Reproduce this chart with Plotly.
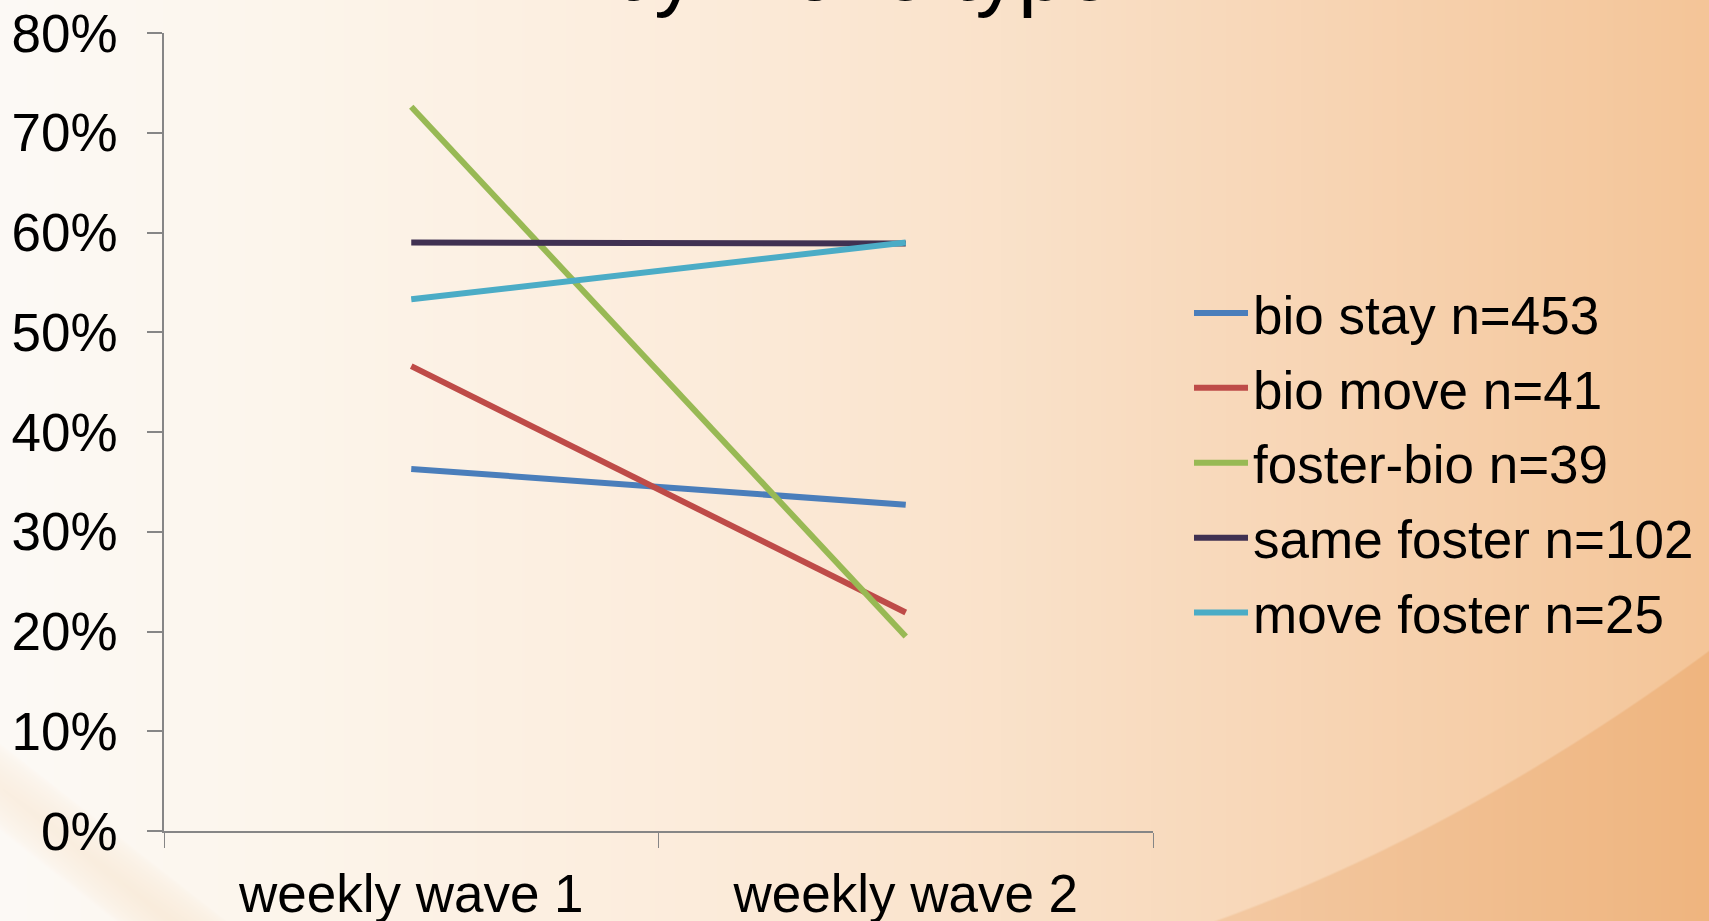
import base64
import struct
import zlib

import numpy as np
import plotly.graph_objects as go

# ---------------- data ----------------
waves = ["weekly wave 1", "weekly wave 2"]
series_names = ["bio stay n=453", "bio move n=41", "foster-bio n=39",
                "same foster n=102", "move foster n=25"]
bio_stay = [0.363, 0.327]
bio_move = [0.466, 0.219]
foster_bio = [0.726, 0.195]
same_foster = [0.590, 0.589]
move_foster = [0.533, 0.590]
series_values = [bio_stay, bio_move, foster_bio, same_foster, move_foster]
series_colors = ["#4A7EBB", "#BE4B48", "#98B954", "#403152", "#4BACC6"]
y_ticks = [0, 0.1, 0.2, 0.3, 0.4, 0.5, 0.6, 0.7, 0.8]

# ---------------- geometry ----------------
W, H = 1709, 921
L, R, T, B = 164.3, 1709 - 1153.0, 33.3, 921 - 830.7
PW, PH = W - L - R, H - T - B
FONT = "Liberation Sans, Arial, sans-serif"


# ---------------- background image (gradient) ----------------
def make_background(w, h):
    xs = np.arange(w, dtype=float)
    ys = np.arange(h, dtype=float)
    stops_x = [0, 300, 700, 1000, 1300, 1709]
    stops_c = np.array([(253, 250, 246), (252, 245, 235), (252, 236, 219),
                        (250, 226, 202), (248, 214, 182), (244, 197, 152)], float)
    base = np.stack([np.interp(xs, stops_x, stops_c[:, k]) for k in range(3)], axis=1)
    img = np.broadcast_to(base[None, :, :], (h, w, 3)).copy()
    X, Y = np.meshgrid(xs, ys)
    # darker swoosh bottom-right
    dx = X - 1300
    yc = -3.8e-4 * dx ** 2 - 0.424 * dx + 887
    yc = np.where(X < 1150, 5000, yc)
    m = np.clip((Y - yc) / 2.0 + 0.5, 0, 1)
    img -= m[..., None] * np.array([5, 16, 25], float)[None, None, :]
    # subtle diagonal band bottom-left
    d = X * 0.617 - (Y - 786) * 0.787
    band = np.clip(1 - np.abs(d) / 34, 0, 1) ** 0.6
    img -= band[..., None] * np.array([3, 11, 20], float)[None, None, :]
    return np.clip(img, 0, 255).astype(np.uint8)


def png_uri(arr):
    h, w, _ = arr.shape
    raw = b"".join(b"\x00" + arr[r].tobytes() for r in range(h))

    def chunk(tag, data):
        c = struct.pack(">I", len(data)) + tag + data
        return c + struct.pack(">I", zlib.crc32(tag + data) & 0xFFFFFFFF)

    png = (b"\x89PNG\r\n\x1a\n"
           + chunk(b"IHDR", struct.pack(">IIBBBBB", w, h, 8, 2, 0, 0, 0))
           + chunk(b"IDAT", zlib.compress(raw, 9))
           + chunk(b"IEND", b""))
    return "data:image/png;base64," + base64.b64encode(png).decode()


bg = png_uri(make_background(W, H))

# ---------------- figure ----------------
fig = go.Figure()
for i, (name, vals, col) in enumerate(zip(series_names, series_values, series_colors)):
    fig.add_trace(go.Scatter(
        x=waves, y=vals, name=name, mode="lines",
        line=dict(color=col, width=6),
        legendgroup=f"g{i}",
        hoverinfo="skip",
    ))

fig.update_layout(
    width=W, height=H,
    margin=dict(l=L, r=R, t=T, b=B, pad=0, autoexpand=False),
    paper_bgcolor="#FCEFE2",
    plot_bgcolor="rgba(0,0,0,0)",
    font=dict(family=FONT, size=53, color="#000000"),
    showlegend=True,
    legend=dict(
        xref="container", yref="container",
        x=1189 / W, y=1 - 272 / H, xanchor="left", yanchor="top",
        bgcolor="rgba(0,0,0,0)", borderwidth=0,
        font=dict(family=FONT, size=53, color="#000000"),
        tracegroupgap=3, itemwidth=54,
    ),
    images=[dict(
        source=bg, xref="paper", yref="paper",
        x=-L / PW, y=1 + T / PH, sizex=W / PW, sizey=H / PH,
        xanchor="left", yanchor="top", sizing="stretch", layer="below",
    )],
    annotations=[dict(
        text="by move type", xref="paper", yref="paper",
        x=(860 - L) / PW, y=1 + (T + 29) / PH,
        xanchor="center", yanchor="middle", showarrow=False,
        font=dict(family=FONT, size=85, color="#000000"),
    )],
)

fig.update_xaxes(
    type="category", range=[-0.5, 1.5], automargin=False,
    showline=True, linecolor="#868686", linewidth=1.5,
    ticks="outside", tickson="boundaries", ticklen=15, tickwidth=1,
    tickcolor="#868686", showgrid=False, zeroline=False,
    ticklabelstandoff=16,
    tickfont=dict(family=FONT, size=53, color="#000000"),
)
fig.update_yaxes(
    range=[0, 0.8], tickvals=y_ticks, tickformat=".0%", automargin=False,
    showline=True, linecolor="#868686", linewidth=1.5,
    ticks="outside", ticklen=15, tickwidth=1.5, tickcolor="#868686",
    showgrid=False, zeroline=False,
    ticklabelstandoff=19,
    tickfont=dict(family=FONT, size=53, color="#000000"),
)

fig.write_html(
    "out.html",
    config={"displayModeBar": False},
    post_script="document.body.style.margin='0';document.body.style.overflow='hidden';",
)
